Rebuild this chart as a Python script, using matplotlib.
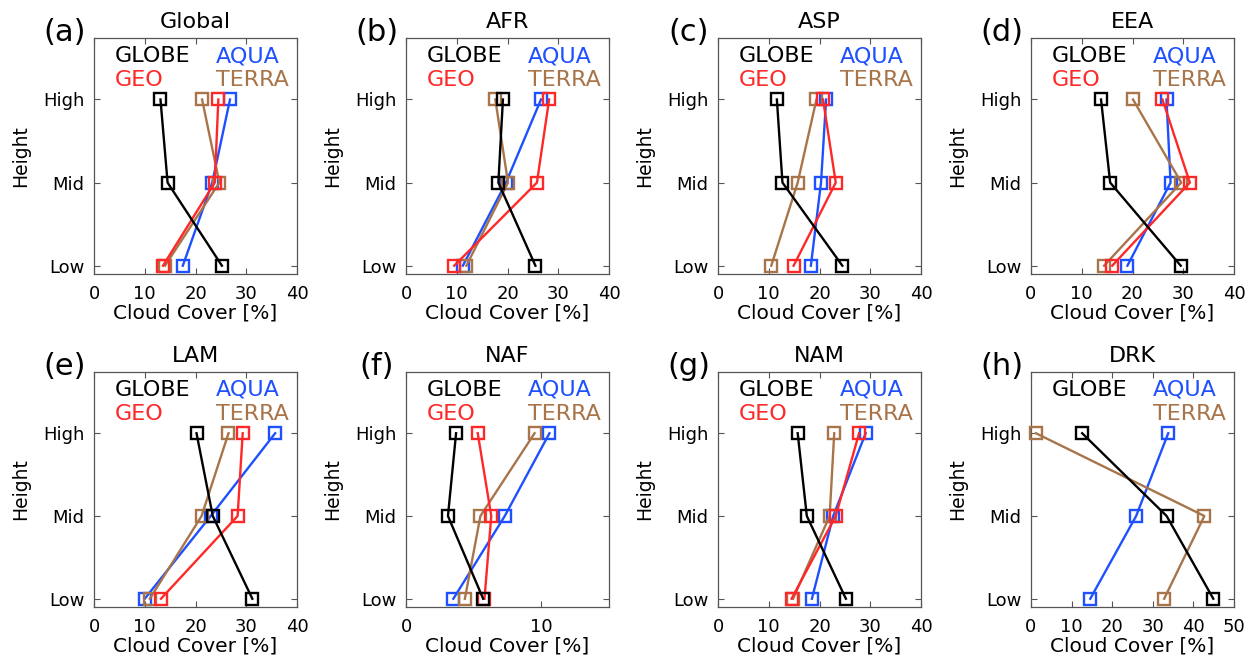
import numpy as np
import matplotlib
matplotlib.use("Agg")
import matplotlib.pyplot as plt

plt.rcParams['font.family'] = ['DejaVu Sans']

# Cloud-cover profiles (%) at Low, Mid, High levels for each region
regions = ["Global", "AFR", "ASP", "EEA", "LAM", "NAF", "NAM", "DRK"]
panel_letters = ["(a)", "(b)", "(c)", "(d)", "(e)", "(f)", "(g)", "(h)"]
levels = ["Low", "Mid", "High"]

globe = [[25.2, 14.5, 13.1], [25.5, 18.2, 19.1], [24.5, 12.7, 11.6], [29.5, 15.6, 13.8],
         [31.2, 23.4, 20.2], [5.7, 3.1, 3.7], [25.2, 17.5, 15.7], [44.9, 33.4, 12.6]]
aqua = [[17.5, 23.3, 26.8], [11.2, 19.7, 26.6], [18.3, 20.3, 21.3], [19.0, 27.5, 26.7],
        [10.0, 23.0, 35.7], [3.5, 7.3, 10.6], [18.5, 22.7, 29.1], [14.6, 25.9, 33.8]]
geo = [[13.6, 23.8, 24.5], [9.5, 25.8, 28.2], [14.9, 23.2, 20.7], [16.0, 31.3, 25.9],
       [13.2, 28.3, 29.3], [5.8, 6.3, 5.3], [14.5, 23.2, 27.8], None]
terra = [[14.0, 24.7, 21.3], [11.9, 20.1, 17.6], [10.5, 15.7, 19.4], [14.4, 29.6, 20.1],
         [11.0, 21.2, 26.5], [4.35, 5.5, 9.5], [14.8, 22.0, 22.9], [32.8, 42.7, 1.2]]

x_max = [40, 40, 40, 40, 40, 15, 40, 50]
x_ticks = [[0, 10, 20, 30, 40]] * 5 + [[0, 10]] + [[0, 10, 20, 30, 40], [0, 10, 20, 30, 40, 50]]

c_globe = "black"
c_aqua = "#1E50FF"
c_geo = "#FF2828"
c_terra = "#A8744A"

W, H = 1252, 660
fig = plt.figure(figsize=(W / 100, H / 100), dpi=100)

col_left = [94, 406, 718, 1031]
row_top = [38, 372]
row_bottom = [274, 607]
ax_w = 203

frame_col = "#555555"
y = np.arange(len(levels))

for i, reg in enumerate(regions):
    r, c = divmod(i, 4)
    left = col_left[c] / W
    bottom = 1 - row_bottom[r] / H
    height = (row_bottom[r] - row_top[r]) / H
    ax = fig.add_axes([left, bottom, ax_w / W, height])

    series = [(aqua[i], c_aqua, 2), (terra[i], c_terra, 3), (geo[i], c_geo, 4), (globe[i], c_globe, 5)]
    for vals, col, z in series:
        if vals is None:
            continue
        ax.plot(vals, y, color=col, lw=1.7, marker='s', ms=8.5, mfc='none', mec=col,
                mew=1.7, zorder=z, clip_on=False)

    ax.set_xlim(0, x_max[i])
    ax.set_ylim(-0.1, 2.74)
    ax.set_xticks(x_ticks[i])
    ax.set_yticks(y)
    ax.set_yticklabels(levels)
    ax.tick_params(direction='in', length=4, width=0.8, color=frame_col,
                   top=True, right=True, labelsize=13, pad=7)
    ax.tick_params(axis='x', pad=8)
    for s in ax.spines.values():
        s.set_color(frame_col)
        s.set_linewidth(0.9)

    ax.set_title(reg, fontsize=16, pad=7)
    ax.text(-0.143, 1.025, panel_letters[i], transform=ax.transAxes, fontsize=22,
            ha='center', va='center')

    ax.set_xlabel("Cloud Cover [%]", fontsize=14.5, va='top')
    ax.xaxis.set_label_coords(0.5, -0.127)
    ax.set_ylabel("Height", fontsize=13.5, va='center')
    ax.yaxis.set_label_coords(-0.362, 0.5)

    # in-panel key
    ax.text(0.10, 0.898, "GLOBE", color=c_globe, fontsize=16, transform=ax.transAxes, va='baseline')
    ax.text(0.60, 0.898, "AQUA", color=c_aqua, fontsize=16, transform=ax.transAxes, va='baseline')
    if geo[i] is not None:
        ax.text(0.10, 0.797, "GEO", color=c_geo, fontsize=16, transform=ax.transAxes, va='baseline')
    ax.text(0.60, 0.797, "TERRA", color=c_terra, fontsize=16, transform=ax.transAxes, va='baseline')

fig.savefig("out.png", dpi=100)
